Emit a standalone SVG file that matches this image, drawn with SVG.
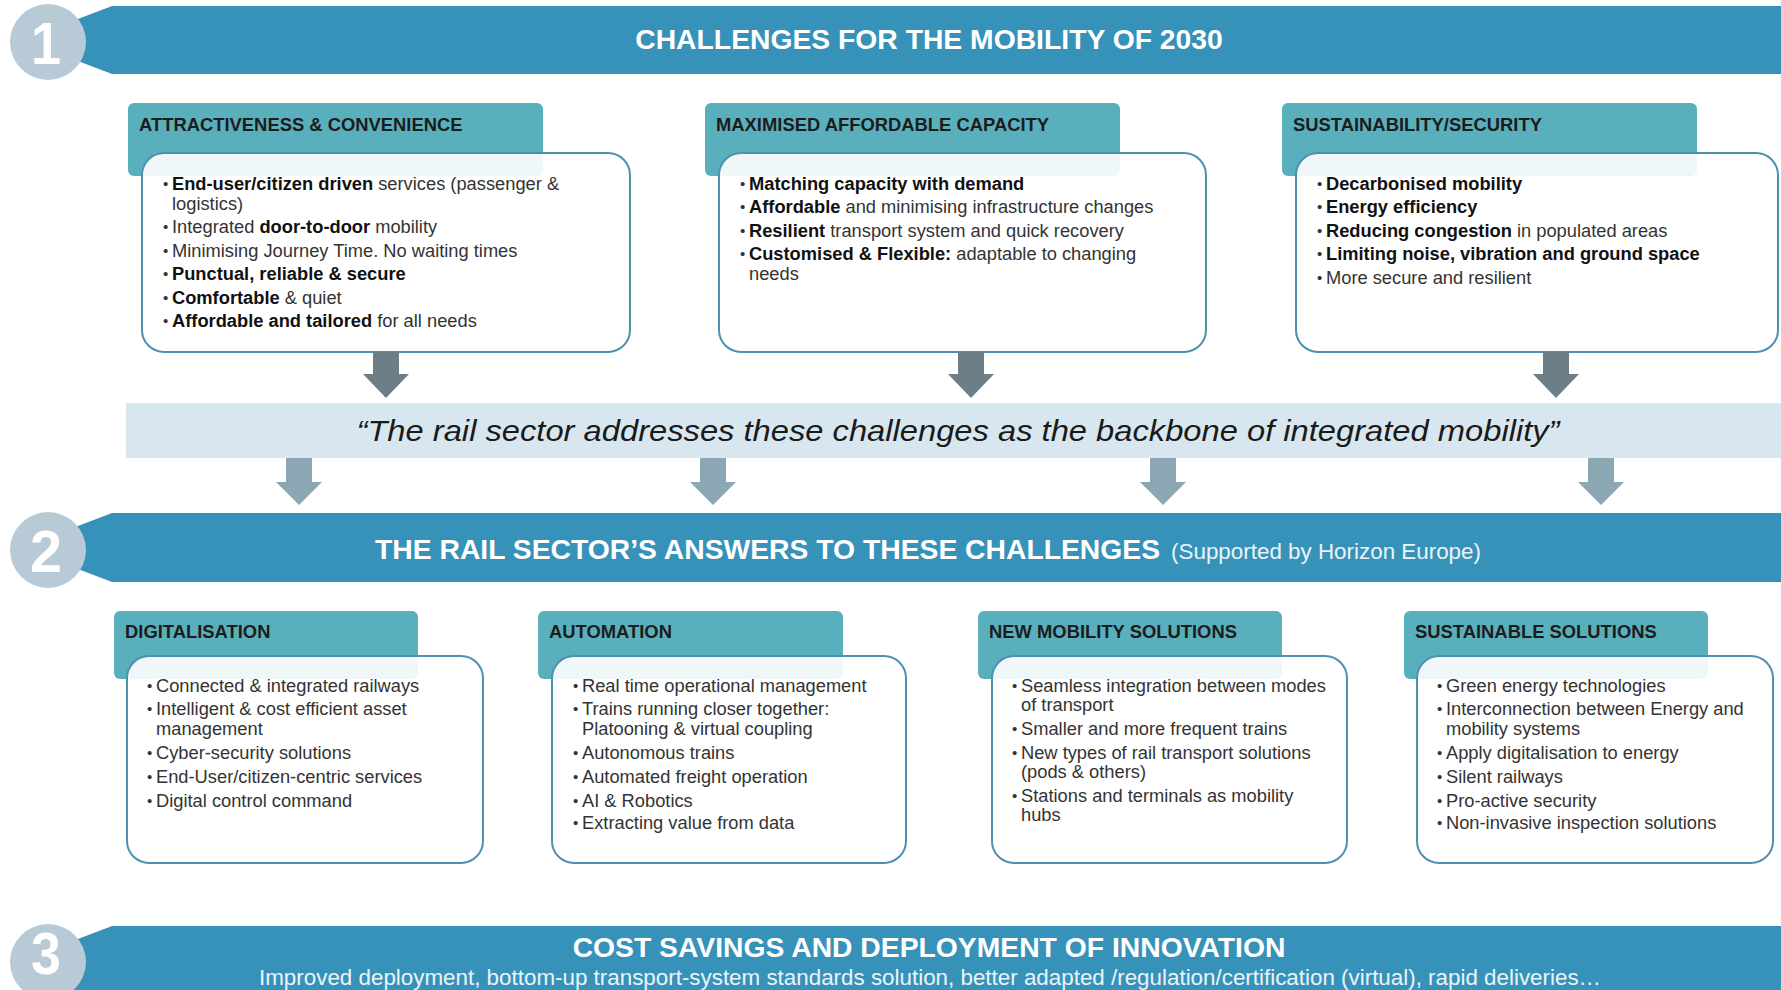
<svg xmlns="http://www.w3.org/2000/svg" width="1781" height="990" viewBox="0 0 1781 990">
<style>
.banner{fill:#3792b9}
.circ{fill:#b9cad7}
.num{font-family:"Liberation Sans",Arial,sans-serif;font-weight:bold;font-size:60px;fill:#ffffff;text-anchor:middle}
.btitle{font-family:"Liberation Sans",Arial,sans-serif;font-weight:bold;font-size:28.3px;fill:#ffffff}
.bsub{font-family:"Liberation Sans",Arial,sans-serif;font-size:22.4px;fill:#eaf4f8;font-weight:normal}
.tab{fill:#5aafbd}
.box{fill:#ffffff;fill-opacity:0.9;stroke:#4f90b1;stroke-width:2}
.hdr{font-family:"Liberation Sans",Arial,sans-serif;font-weight:bold;font-size:18.4px;fill:#1c1c1c}
.txt{font-family:"Liberation Sans",Arial,sans-serif;font-size:18.3px;fill:#333333}
.b{font-weight:bold;fill:#111111}
.bul{font-family:"Liberation Sans",Arial,sans-serif;font-size:15px;fill:#333333}
.band{fill:#d8e7ef}
.quote{font-family:"Liberation Sans",Arial,sans-serif;font-style:italic;font-size:29px;fill:#1a1a1a}
.darr{fill:#6d7f86}
.larr{fill:#8aa7b3}
</style>

<g id="section1">
  <polygon class="banner" points="112,6 1781,6 1781,74 112,74 70,58 70,22"/>
  <circle class="circ" cx="48" cy="42" r="38"/>
  <text class="num" x="46" y="64" textLength="30" lengthAdjust="spacingAndGlyphs">1</text>
  <text class="btitle" x="929" y="49" text-anchor="middle">CHALLENGES FOR THE MOBILITY OF 2030</text>
</g>

<g id="attractiveness">
  <rect class="tab" x="128" y="103" width="415" height="73" rx="6"/>
  <text class="hdr" x="139" y="131">ATTRACTIVENESS &amp; CONVENIENCE</text>
  <rect class="box" x="142" y="153" width="488" height="199" rx="22"/>
  <g class="bul"><text x="163" y="189">•</text><text x="163" y="232">•</text><text x="163" y="256">•</text><text x="163" y="279">•</text><text x="163" y="303">•</text><text x="163" y="326">•</text></g>
  <text class="txt" x="172" y="190"><tspan class="b">End-user/citizen driven</tspan> services (passenger &amp;</text>
  <text class="txt" x="172" y="210">logistics)</text>
  <text class="txt" x="172" y="233">Integrated <tspan class="b">door-to-door</tspan> mobility</text>
  <text class="txt" x="172" y="257">Minimising Journey Time. No waiting times</text>
  <text class="txt" x="172" y="280"><tspan class="b">Punctual, reliable &amp; secure</tspan></text>
  <text class="txt" x="172" y="304"><tspan class="b">Comfortable</tspan> &amp; quiet</text>
  <text class="txt" x="172" y="327"><tspan class="b">Affordable and tailored</tspan> for all needs</text>
</g>

<g id="capacity">
  <rect class="tab" x="705" y="103" width="415" height="73" rx="6"/>
  <text class="hdr" x="716" y="131">MAXIMISED AFFORDABLE CAPACITY</text>
  <rect class="box" x="719" y="153" width="487" height="199" rx="22"/>
  <g class="bul"><text x="740" y="189">•</text><text x="740" y="212">•</text><text x="740" y="236">•</text><text x="740" y="259">•</text></g>
  <text class="txt" x="749" y="190"><tspan class="b">Matching capacity with demand</tspan></text>
  <text class="txt" x="749" y="213"><tspan class="b">Affordable</tspan> and minimising infrastructure changes</text>
  <text class="txt" x="749" y="237"><tspan class="b">Resilient</tspan> transport system and quick recovery</text>
  <text class="txt" x="749" y="260"><tspan class="b">Customised &amp; Flexible:</tspan> adaptable to changing</text>
  <text class="txt" x="749" y="280">needs</text>
</g>

<g id="sustainability">
  <rect class="tab" x="1282" y="103" width="415" height="73" rx="6"/>
  <text class="hdr" x="1293" y="131">SUSTAINABILITY/SECURITY</text>
  <rect class="box" x="1296" y="153" width="482" height="199" rx="22"/>
  <g class="bul"><text x="1317" y="189">•</text><text x="1317" y="212">•</text><text x="1317" y="236">•</text><text x="1317" y="259">•</text><text x="1317" y="283">•</text></g>
  <text class="txt" x="1326" y="190"><tspan class="b">Decarbonised mobility</tspan></text>
  <text class="txt" x="1326" y="213"><tspan class="b">Energy efficiency</tspan></text>
  <text class="txt" x="1326" y="237"><tspan class="b">Reducing congestion</tspan> in populated areas</text>
  <text class="txt" x="1326" y="260"><tspan class="b">Limiting noise, vibration and ground space</tspan></text>
  <text class="txt" x="1326" y="284">More secure and resilient</text>
</g>

<g id="backbone">
  <rect class="band" x="126" y="403" width="1655" height="55"/>
  <text class="quote" x="958" y="441" text-anchor="middle" textLength="1203" lengthAdjust="spacingAndGlyphs">“The rail sector addresses these challenges as the backbone of integrated mobility”</text>
</g>

<g id="section2">
  <polygon class="banner" points="112,513 1781,513 1781,582 112,582 70,566 70,529"/>
  <circle class="circ" cx="48" cy="550" r="38"/>
  <text class="num" x="46" y="572" textLength="32" lengthAdjust="spacingAndGlyphs">2</text>
  <text class="btitle" x="375" y="559">THE RAIL SECTOR’S ANSWERS TO THESE CHALLENGES<tspan class="bsub" dx="11">(Supported by Horizon Europe)</tspan></text>
</g>

<g id="digitalisation">
  <rect class="tab" x="114" y="611" width="304" height="68" rx="6"/>
  <text class="hdr" x="125" y="638">DIGITALISATION</text>
  <rect class="box" x="127" y="656" width="356" height="207" rx="22"/>
  <g class="bul"><text x="147" y="691">•</text><text x="147" y="714">•</text><text x="147" y="758">•</text><text x="147" y="782">•</text><text x="147" y="806">•</text></g>
  <text class="txt" x="156" y="692">Connected &amp; integrated railways</text>
  <text class="txt" x="156" y="715">Intelligent &amp; cost efficient asset</text>
  <text class="txt" x="156" y="735">management</text>
  <text class="txt" x="156" y="759">Cyber-security solutions</text>
  <text class="txt" x="156" y="783">End-User/citizen-centric services</text>
  <text class="txt" x="156" y="807">Digital control command</text>
</g>

<g id="automation">
  <rect class="tab" x="538" y="611" width="305" height="68" rx="6"/>
  <text class="hdr" x="549" y="638">AUTOMATION</text>
  <rect class="box" x="552" y="656" width="354" height="207" rx="22"/>
  <g class="bul"><text x="573" y="691">•</text><text x="573" y="714">•</text><text x="573" y="758">•</text><text x="573" y="782">•</text><text x="573" y="806">•</text><text x="573" y="828">•</text></g>
  <text class="txt" x="582" y="692">Real time operational management</text>
  <text class="txt" x="582" y="715">Trains running closer together:</text>
  <text class="txt" x="582" y="735">Platooning &amp; virtual coupling</text>
  <text class="txt" x="582" y="759">Autonomous trains</text>
  <text class="txt" x="582" y="783">Automated freight operation</text>
  <text class="txt" x="582" y="807">AI &amp; Robotics</text>
  <text class="txt" x="582" y="829">Extracting value from data</text>
</g>

<g id="newmobility">
  <rect class="tab" x="978" y="611" width="304" height="68" rx="6"/>
  <text class="hdr" x="989" y="638">NEW MOBILITY SOLUTIONS</text>
  <rect class="box" x="992" y="656" width="355" height="207" rx="22"/>
  <g class="bul"><text x="1012" y="691">•</text><text x="1012" y="734">•</text><text x="1012" y="758">•</text><text x="1012" y="801">•</text></g>
  <text class="txt" x="1021" y="692">Seamless integration between modes</text>
  <text class="txt" x="1021" y="711">of transport</text>
  <text class="txt" x="1021" y="735">Smaller and more frequent trains</text>
  <text class="txt" x="1021" y="759">New types of rail transport solutions</text>
  <text class="txt" x="1021" y="778">(pods &amp; others)</text>
  <text class="txt" x="1021" y="802">Stations and terminals as mobility</text>
  <text class="txt" x="1021" y="821">hubs</text>
</g>

<g id="sustainablesolutions">
  <rect class="tab" x="1404" y="611" width="304" height="68" rx="6"/>
  <text class="hdr" x="1415" y="638">SUSTAINABLE SOLUTIONS</text>
  <rect class="box" x="1417" y="656" width="356" height="207" rx="22"/>
  <g class="bul"><text x="1437" y="691">•</text><text x="1437" y="714">•</text><text x="1437" y="758">•</text><text x="1437" y="782">•</text><text x="1437" y="806">•</text><text x="1437" y="828">•</text></g>
  <text class="txt" x="1446" y="692">Green energy technologies</text>
  <text class="txt" x="1446" y="715">Interconnection between Energy and</text>
  <text class="txt" x="1446" y="735">mobility systems</text>
  <text class="txt" x="1446" y="759">Apply digitalisation to energy</text>
  <text class="txt" x="1446" y="783">Silent railways</text>
  <text class="txt" x="1446" y="807">Pro-active security</text>
  <text class="txt" x="1446" y="829">Non-invasive inspection solutions</text>
</g>

<g id="section3">
  <polygon class="banner" points="112,926 1781,926 1781,990 70,990 70,942"/>
  <circle class="circ" cx="48" cy="962" r="38"/>
  <text class="num" x="46" y="974" font-size="52" textLength="30" lengthAdjust="spacingAndGlyphs">3</text>
  <text class="btitle" x="929" y="957" text-anchor="middle">COST SAVINGS AND DEPLOYMENT OF INNOVATION</text>
  <text class="bsub" x="930" y="985" text-anchor="middle" font-size="20.5" textLength="1342" lengthAdjust="spacingAndGlyphs">Improved deployment, bottom-up transport-system standards solution, better adapted /regulation/certification (virtual), rapid deliveries…</text>
</g>

<g id="connectors">
  <polygon class="darr" points="373,352 399,352 399,374 409,374 386,398 363,374 373,374"/>
  <polygon class="darr" points="958,352 984,352 984,374 994,374 971,398 948,374 958,374"/>
  <polygon class="darr" points="1543,352 1569,352 1569,374 1579,374 1556,398 1533,374 1543,374"/>
  <polygon class="larr" points="286,458 312,458 312,482 322,482 299,505 276,482 286,482"/>
  <polygon class="larr" points="700,458 726,458 726,482 736,482 713,505 690,482 700,482"/>
  <polygon class="larr" points="1150,458 1176,458 1176,482 1186,482 1163,505 1140,482 1150,482"/>
  <polygon class="larr" points="1588,458 1614,458 1614,482 1624,482 1601,505 1578,482 1588,482"/>
</g>
</svg>
